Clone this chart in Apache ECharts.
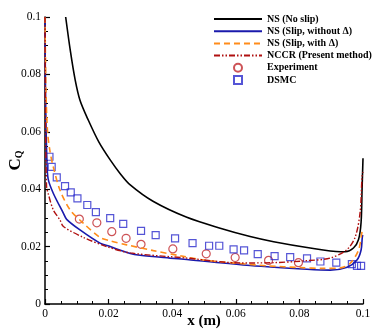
<!DOCTYPE html>
<html>
<head>
<meta charset="utf-8">
<script src="https://cdn.jsdelivr.net/npm/echarts@6/dist/echarts.min.js"></script>
<style>
  html, body { margin: 0; padding: 0; background: #fff; }
  #chart { width: 374px; height: 332px; }
</style>
</head>
<body>
<div id="chart"></div>
<script>
// NS (No slip)
const noSlipX = [0.0065, 0.008, 0.0095, 0.011, 0.0136, 0.017, 0.0205, 0.0236, 0.0268, 0.0341, 0.0446, 0.0551, 0.0645, 0.0719, 0.0824, 0.0929, 0.0944, 0.097, 0.0986, 0.0994, 0.0997, 0.1]
const noSlipY = [0.1, 0.088, 0.078, 0.071, 0.0641, 0.0563, 0.0502, 0.0455, 0.0415, 0.0357, 0.0302, 0.0264, 0.0235, 0.0217, 0.0197, 0.0182, 0.0182, 0.0195, 0.0225, 0.0285, 0.0397, 0.0508]

// NS (Slip, without Δ)
const slipX = [0, 0.0002, 0.0006, 0.001, 0.0026, 0.0058, 0.0068, 0.011, 0.0173, 0.0205, 0.0268, 0.0299, 0.0393, 0.0446, 0.0645, 0.0824, 0.0897, 0.095, 0.0981, 0.0994, 0.0998, 0.1]
const slipY = [0.1, 0.07, 0.05, 0.0435, 0.0386, 0.0316, 0.0295, 0.0258, 0.0212, 0.02, 0.0176, 0.017, 0.016, 0.0155, 0.0134, 0.0121, 0.0118, 0.0128, 0.0153, 0.0188, 0.0235, 0.024]

// NS (Slip, with Δ)
const slipDX = [0, 0.0003, 0.0008, 0.0016, 0.0026, 0.0047, 0.0079, 0.0121, 0.0173, 0.0205, 0.0257, 0.0341, 0.0425, 0.05, 0.0603, 0.07, 0.08, 0.0876, 0.093, 0.096, 0.0986, 0.0997, 0.1]
const slipDY = [0.1, 0.075, 0.06, 0.053, 0.0478, 0.0397, 0.0328, 0.0281, 0.0232, 0.022, 0.0206, 0.0186, 0.0168, 0.0153, 0.0142, 0.0133, 0.0127, 0.0124, 0.0126, 0.0142, 0.0188, 0.0252, 0.0265]

// NCCR (Present method)
const nccrX = [0, 0.0002, 0.0005, 0.001, 0.0026, 0.0047, 0.0058, 0.0121, 0.0194, 0.0268, 0.0446, 0.0614, 0.0719, 0.0824, 0.0897, 0.095, 0.0976, 0.0991, 0.0997, 0.1]
const nccrY = [0.1, 0.06, 0.0409, 0.0385, 0.0328, 0.0293, 0.027, 0.0232, 0.02, 0.0178, 0.016, 0.0143, 0.0144, 0.0151, 0.016, 0.019, 0.0235, 0.032, 0.0444, 0.046]

// Experiment
const expX = [0.0108, 0.0163, 0.021, 0.0255, 0.0302, 0.0402, 0.0507, 0.0598, 0.0703, 0.0797]
const expY = [0.0296, 0.0283, 0.0252, 0.0229, 0.0208, 0.0192, 0.0175, 0.0162, 0.0152, 0.0144]

// DSMC
const dsmcX = [0.0014, 0.0021, 0.0037, 0.0063, 0.0081, 0.0102, 0.0133, 0.016, 0.0205, 0.0246, 0.0302, 0.0348, 0.0409, 0.0464, 0.0516, 0.0548, 0.0593, 0.0626, 0.0669, 0.0722, 0.0771, 0.0824, 0.0866, 0.0916, 0.0965, 0.0981, 0.0994]
const dsmcY = [0.0513, 0.0478, 0.0441, 0.0411, 0.0389, 0.0368, 0.0345, 0.032, 0.0299, 0.0279, 0.0255, 0.024, 0.0229, 0.0212, 0.0203, 0.0203, 0.019, 0.0187, 0.0174, 0.0167, 0.0163, 0.0159, 0.0148, 0.0144, 0.0139, 0.0133, 0.0133]

const zip = (xs, ys) => xs.map((x, i) => [x, ys[i]])
const serif = '"Liberation Serif", "DejaVu Serif", serif'

const chart = echarts.init(document.getElementById('chart'))

const axisCommon = {
  type: 'value',
  min: 0,
  max: 0.1,
  interval: 0.02,
  nameMoveOverlap: false,
  axisLine: { show: true, onZero: false, lineStyle: { color: '#000', width: 1.5 } },
  axisTick: { show: true, inside: true, length: 5, lineStyle: { color: '#000', width: 1.2 } },
  minorTick: { show: true, splitNumber: 4, length: 3, lineStyle: { color: '#000', width: 1 } },
  splitLine: { show: false },
  axisLabel: { color: '#000', fontFamily: serif, fontSize: 11.5, margin: 4 },
}

function lineSeries(name, data, color, width, type) {
  return {
    name, type: 'line', data,
    symbol: 'none', smooth: 0.3, clip: true,
    lineStyle: { color, width, type },
    itemStyle: { color },
  }
}

// legend entries for lines: hide the marker, keep the stroke
const lineItem = name => ({ name, itemStyle: { opacity: 0 } })

chart.setOption({
  animation: false,
  grid: { left: 45, right: 11, top: 17, bottom: 28, outerBoundsMode: 'none' },
  xAxis: {
    ...axisCommon,
    name: 'x (m)',
    nameLocation: 'middle',
    nameGap: 10,
    nameTextStyle: { color: '#000', fontFamily: serif, fontSize: 15, fontWeight: 'bold' },
  },
  yAxis: {
    ...axisCommon,
    name: '{c|C}{q|Q}',
    nameLocation: 'middle',
    nameRotate: 90,
    nameGap: 21,
    nameTextStyle: {
      rich: {
        c: { fontFamily: serif, fontSize: 17, fontWeight: 'bold', color: '#000', lineHeight: 20, verticalAlign: 'bottom' },
        q: { fontFamily: serif, fontSize: 10, fontWeight: 'bold', color: '#000', lineHeight: 20, verticalAlign: 'bottom', padding: [6, 0, 0, 0] },
      },
    },
  },
  legend: {
    orient: 'vertical',
    left: 213,
    top: 14,
    padding: 0,
    itemWidth: 48,
    itemHeight: 8,
    itemGap: 2.2,
    textStyle: { fontFamily: serif, fontSize: 10, fontWeight: 'bold', color: '#000' },
    data: [
      lineItem('NS (No slip)'),
      lineItem('NS (Slip, without Δ)'),
      lineItem('NS (Slip, with Δ)'),
      lineItem('NCCR (Present method)'),
      { name: 'Experiment', icon: 'circle' },
      { name: 'DSMC', icon: 'path://M0,0L10,0L10,10L0,10Z' },
    ],
  },
  series: [
    lineSeries('NS (No slip)', zip(noSlipX, noSlipY), '#000000', 1.6, 'solid'),
    lineSeries('NS (Slip, without Δ)', zip(slipX, slipY), '#1a1aac', 1.6, 'solid'),
    lineSeries('NS (Slip, with Δ)', zip(slipDX, slipDY), '#ff8c1a', 1.6, [6, 4]),
    lineSeries('NCCR (Present method)', zip(nccrX, nccrY), '#b01010', 1.4, [6, 2, 1.5, 2, 1.5, 2]),
    {
      name: 'Experiment', type: 'scatter', data: zip(expX, expY),
      symbol: 'circle', symbolSize: 8,
      itemStyle: { color: 'rgba(0,0,0,0)', borderColor: '#c0282d', borderWidth: 1.2 },
    },
    {
      name: 'DSMC', type: 'scatter', data: zip(dsmcX, dsmcY),
      symbol: 'rect', symbolSize: 7,
      itemStyle: { color: 'rgba(0,0,0,0)', borderColor: '#2a2acc', borderWidth: 1.2 },
    },
  ],
})
</script>
</body>
</html>
